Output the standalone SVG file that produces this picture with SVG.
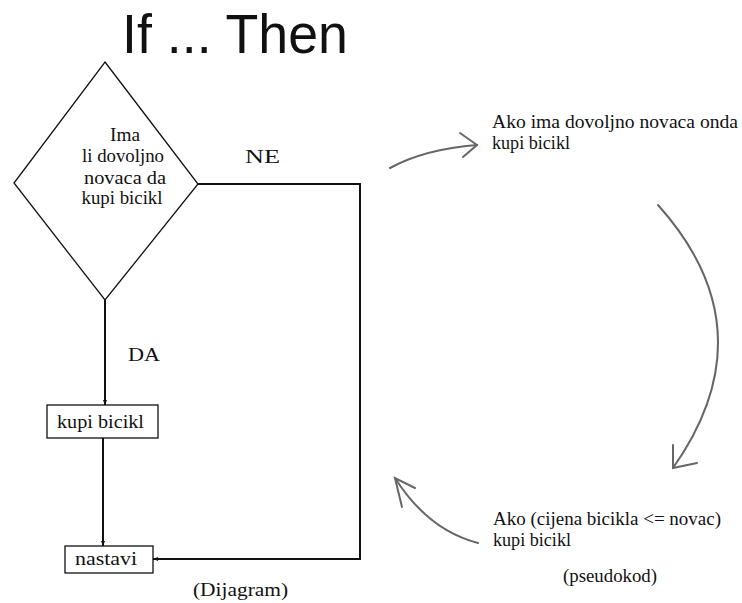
<svg xmlns="http://www.w3.org/2000/svg" width="742" height="603" viewBox="0 0 742 603">
<style>
.t{font-family:"Liberation Serif","Times New Roman",serif;font-size:18.5px;fill:#111}
.ttl{font-family:"Liberation Sans",Arial,sans-serif;font-size:56px;fill:#111}
.box{fill:#fff;stroke:#111;stroke-width:1.3}
.ln{fill:none;stroke:#111;stroke-width:2}
.cv{fill:none;stroke:#666;stroke-width:2;stroke-linecap:round}
</style>
<defs>
<marker id="ah" viewBox="0 0 10 10" refX="10" refY="5" markerWidth="5" markerHeight="5" orient="auto" markerUnits="userSpaceOnUse">
<path d="M0,1 L10,5 L0,9 z" fill="#111"/>
</marker>
</defs>
<rect width="742" height="603" fill="#fff"/>
<text class="ttl" x="122" y="53" textLength="226" lengthAdjust="spacingAndGlyphs">If ... Then</text>

<g id="connectors">
<path class="ln" d="M105,300 L105,405" marker-end="url(#ah)"/>
<path class="ln" d="M103,438 L103,546" marker-end="url(#ah)"/>
<path class="ln" d="M198,184 L360,184 L360,559 L153,559" marker-end="url(#ah)"/>
<text class="t" x="245" y="163" textLength="35" lengthAdjust="spacingAndGlyphs">NE</text>
<text class="t" x="128" y="361" textLength="32" lengthAdjust="spacingAndGlyphs">DA</text>
<path class="cv" d="M390,168 Q425,149 477,145"/>
<path class="cv" d="M460,133 L477,145 L463,157"/>
<path class="cv" d="M658,205 Q770,330 673,468"/>
<path class="cv" d="M673,445 L673,468 L697,463"/>
<path class="cv" d="M478,543 Q428,530 395,478"/>
<path class="cv" d="M415,488 L395,478 L402,507"/>
</g>

<g id="decision">
<polygon class="box" points="105,62 198,184 105,300 14,183" fill="none"/>
<text class="t" x="125" y="141" text-anchor="middle" textLength="30" lengthAdjust="spacingAndGlyphs">Ima</text>
<text class="t" x="123" y="162" text-anchor="middle" textLength="82" lengthAdjust="spacingAndGlyphs">li dovoljno</text>
<text class="t" x="125" y="184" text-anchor="middle" textLength="82" lengthAdjust="spacingAndGlyphs">novaca da</text>
<text class="t" x="122" y="204" text-anchor="middle" textLength="81" lengthAdjust="spacingAndGlyphs">kupi bicikl</text>
</g>

<g id="kupi">
<rect class="box" x="47" y="405" width="111" height="33"/>
<text class="t" x="57" y="428" textLength="87" lengthAdjust="spacingAndGlyphs">kupi bicikl</text>
</g>

<g id="nastavi">
<rect class="box" x="65" y="546" width="88" height="27"/>
<text class="t" x="75" y="565" textLength="62" lengthAdjust="spacingAndGlyphs">nastavi</text>
</g>

<g id="dijagram">
<text class="t" x="193" y="596" textLength="95" lengthAdjust="spacingAndGlyphs">(Dijagram)</text>
</g>

<g id="pseudo1">
<text class="t" x="492" y="128" textLength="246" lengthAdjust="spacingAndGlyphs">Ako ima dovoljno novaca onda</text>
<text class="t" x="492" y="149" textLength="78" lengthAdjust="spacingAndGlyphs">kupi bicikl</text>
</g>

<g id="pseudo2">
<text class="t" x="493" y="525" textLength="228" lengthAdjust="spacingAndGlyphs">Ako (cijena bicikla &lt;= novac)</text>
<text class="t" x="493" y="546" textLength="78" lengthAdjust="spacingAndGlyphs">kupi bicikl</text>
<text class="t" x="563" y="582" textLength="94" lengthAdjust="spacingAndGlyphs">(pseudokod)</text>
</g>
</svg>
